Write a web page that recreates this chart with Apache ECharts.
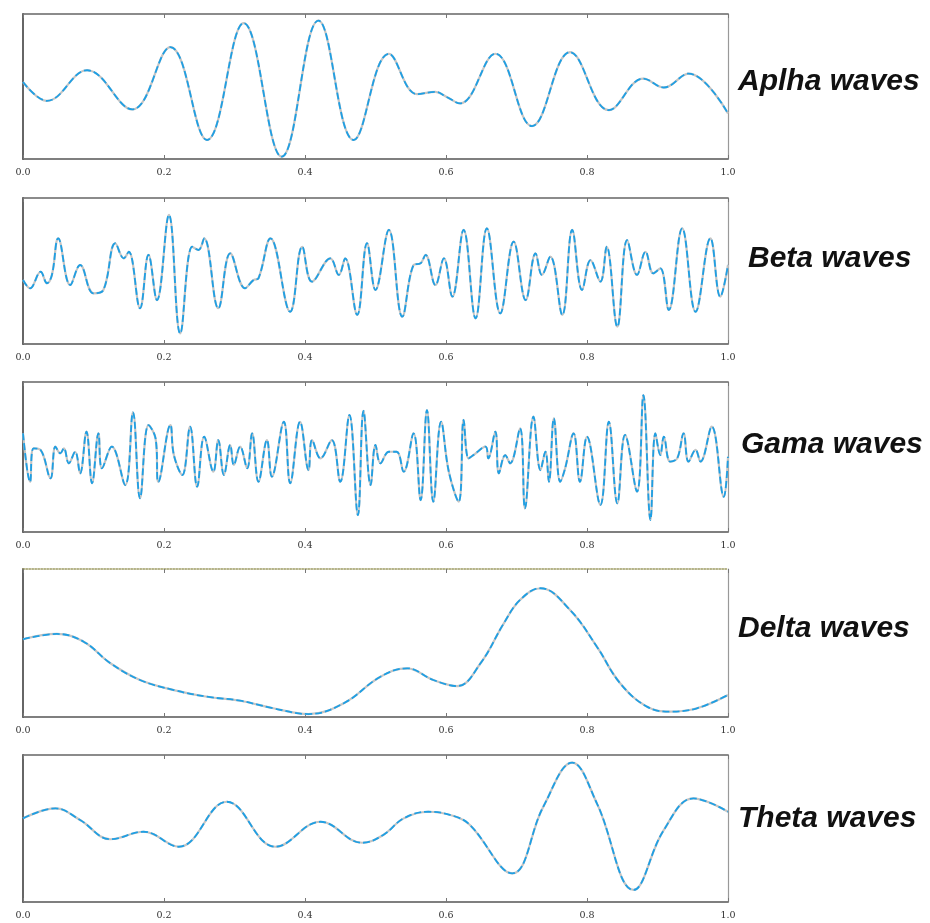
<!DOCTYPE html>
<html>
<head>
<meta charset="utf-8">
<script src="https://cdn.jsdelivr.net/npm/echarts@6/dist/echarts.min.js"></script>
<style>
  html, body { margin: 0; padding: 0; background: #fff; }
  #chart { width: 930px; height: 923px; }
</style>
</head>
<body>
<div id="chart"></div>
<script>
// EEG rhythm traces, one panel per band: [time (s), relative amplitude]
const alphaWave = [[0.000,53.1],[0.034,40.1],[0.091,61.2],[0.155,34.2],[0.209,77.2],[0.261,13.1],[0.313,93.7],[0.367,1.6],[0.419,95.5],[0.469,13.1],[0.519,72.6],[0.559,44.7],[0.585,46.3],[0.601,42.8],[0.620,38.3],[0.670,72.6],[0.722,22.7],[0.776,73.7],[0.831,33.7],[0.880,55.5],[0.909,49.3],[0.944,58.9],[1.000,31.4]];

const betaWave = [[0.000,43.8],[0.010,38.2],[0.025,49.5],[0.034,41.6],[0.041,47.3],[0.050,72.4],[0.067,40.4],[0.081,54.1],[0.100,34.7],[0.114,37.0],[0.131,69.0],[0.143,58.7],[0.150,63.2],[0.166,24.5],[0.178,61.0],[0.190,30.1],[0.207,88.4],[0.223,7.3],[0.240,66.6],[0.249,64.4],[0.257,72.4],[0.277,24.5],[0.294,62.1],[0.315,38.2],[0.327,43.8],[0.334,45.0],[0.351,72.4],[0.379,22.1],[0.396,66.6],[0.410,42.7],[0.436,58.7],[0.448,47.3],[0.457,58.7],[0.474,19.9],[0.488,69.0],[0.500,37.0],[0.519,78.1],[0.538,18.7],[0.554,54.1],[0.564,55.3],[0.571,61.0],[0.585,40.4],[0.597,58.7],[0.609,32.4],[0.625,78.1],[0.642,17.6],[0.658,79.2],[0.677,21.0],[0.696,70.1],[0.713,30.1],[0.727,62.1],[0.736,47.3],[0.748,59.8],[0.765,19.9],[0.779,78.1],[0.793,37.0],[0.805,57.5],[0.819,42.7],[0.828,66.6],[0.843,11.8],[0.857,71.2],[0.871,47.3],[0.883,63.2],[0.894,48.4],[0.904,51.8],[0.916,23.3],[0.935,79.2],[0.954,22.1],[0.975,72.4],[0.989,32.4],[1.000,54.1]];

const gammaWave = [[0.000,65.8],[0.010,33.5],[0.015,55.8],[0.025,54.7],[0.039,35.8],[0.046,56.9],[0.053,52.5],[0.058,55.8],[0.065,45.8],[0.074,53.5],[0.081,39.1],[0.090,66.9],[0.098,32.5],[0.107,65.8],[0.112,42.5],[0.126,56.9],[0.145,31.3],[0.156,79.8],[0.166,22.5],[0.178,71.3],[0.188,62.5],[0.192,33.5],[0.209,71.3],[0.214,51.3],[0.226,38.0],[0.237,70.2],[0.247,30.2],[0.257,63.5],[0.270,40.2],[0.277,61.3],[0.285,38.0],[0.294,58.0],[0.299,44.7],[0.308,56.9],[0.318,42.5],[0.325,65.8],[0.334,33.5],[0.346,61.3],[0.353,36.9],[0.370,73.5],[0.379,32.5],[0.393,73.5],[0.405,41.3],[0.410,61.3],[0.422,49.1],[0.438,61.3],[0.450,33.5],[0.463,78.0],[0.475,11.3],[0.483,80.7],[0.493,31.3],[0.500,58.0],[0.507,45.8],[0.519,53.5],[0.530,53.5],[0.540,40.2],[0.554,65.8],[0.564,21.3],[0.573,81.3],[0.582,20.2],[0.593,73.5],[0.604,40.2],[0.618,20.2],[0.625,74.7],[0.632,49.1],[0.639,51.3],[0.656,56.9],[0.660,49.1],[0.670,66.9],[0.675,39.1],[0.684,51.3],[0.691,45.8],[0.705,69.1],[0.712,15.8],[0.724,76.9],[0.734,41.3],[0.741,53.5],[0.746,33.5],[0.753,75.8],[0.762,33.5],[0.769,42.5],[0.781,65.8],[0.790,33.5],[0.800,63.5],[0.819,18.0],[0.831,73.5],[0.843,19.1],[0.854,64.7],[0.871,26.9],[0.880,91.3],[0.890,8.0],[0.897,65.8],[0.904,51.3],[0.909,63.5],[0.918,46.9],[0.928,49.1],[0.937,65.8],[0.944,46.9],[0.954,54.7],[0.961,46.9],[0.977,70.2],[0.994,23.5],[1.000,50.2]];

const deltaWave = [[0.000,52.5],[0.048,56.1],[0.086,50.9],[0.124,36.3],[0.166,25.0],[0.214,18.2],[0.261,13.7],[0.308,11.0],[0.355,5.9],[0.405,2.0],[0.455,9.3],[0.507,27.2],[0.545,32.9],[0.582,25.0],[0.616,20.9],[0.649,36.3],[0.682,63.3],[0.705,79.1],[0.734,87.0],[0.776,72.3],[0.814,47.5],[0.847,22.8],[0.885,7.0],[0.918,3.6],[0.956,5.9],[1.000,14.9]];

const thetaWave = [[0.000,56.9],[0.046,63.7],[0.081,55.8],[0.124,42.7],[0.171,47.8],[0.221,37.6],[0.289,68.2],[0.358,37.6],[0.422,54.6],[0.481,40.3],[0.511,45.6],[0.540,56.9],[0.575,61.4],[0.611,58.5],[0.634,52.4],[0.694,19.5],[0.738,64.8],[0.779,94.8],[0.814,67.1],[0.866,8.2],[0.909,49.0],[0.951,70.5],[1.000,61.4]];

const panelNames = ['Aplha waves', 'Beta waves', 'Gama waves', 'Delta waves', 'Theta waves'];
const panelData = [alphaWave, betaWave, gammaWave, deltaWave, thetaWave];
const xTicks = [0.0, 0.2, 0.4, 0.6, 0.8, 1.0];

// panel boxes and caption placement
const boxes = [
  { top: 14,  height: 145, labelX: 738, labelY: 80 },
  { top: 198, height: 146, labelX: 748, labelY: 257 },
  { top: 382, height: 150, labelX: 741, labelY: 443 },
  { top: 569, height: 148, labelX: 738, labelY: 627 },
  { top: 755, height: 147, labelX: 738, labelY: 817 }
];

const grids = [], xAxes = [], yAxes = [], series = [], graphics = [];

boxes.forEach((b, i) => {
  grids.push({ left: 23, right: 202, top: b.top, height: b.height });
  const topLine = i === 3 ? { color: '#9c9a62', width: 1.5, type: 'dotted' } : { color: '#666', width: 1.5 };
  xAxes.push({
    gridIndex: i, type: 'value', min: xTicks[0], max: xTicks[xTicks.length - 1], interval: 0.2,
    position: 'bottom',
    axisLine: { onZero: false, lineStyle: { color: '#555', width: 1.5 } },
    axisTick: { inside: true, length: 4, lineStyle: { color: '#777' } },
    axisLabel: { fontSize: 9.5, color: '#333', margin: 9, fontFamily: 'DejaVu Serif',
                 formatter: v => v.toFixed(1) },
    splitLine: { show: false }
  });
  xAxes.push({
    gridIndex: i, type: 'value', min: 0, max: 1, interval: 0.2, position: 'top',
    axisLine: { onZero: false, lineStyle: topLine },
    axisTick: { inside: true, length: 4, lineStyle: { color: '#777' } },
    axisLabel: { show: false }, splitLine: { show: false }
  });
  yAxes.push({
    gridIndex: i, type: 'value', min: 0, max: 100, position: 'left',
    axisLine: { show: true, onZero: false, lineStyle: { color: '#666', width: 2 } },
    axisTick: { show: false }, axisLabel: { show: false }, splitLine: { show: false }
  });
  yAxes.push({
    gridIndex: i, type: 'value', min: 0, max: 100, position: 'right',
    axisLine: { show: true, onZero: false, lineStyle: { color: '#999', width: 1.2 } },
    axisTick: { show: false }, axisLabel: { show: false }, splitLine: { show: false }
  });

  // grey trace underneath with a dashed blue trace on top
  series.push({
    type: 'line', xAxisIndex: 2 * i, yAxisIndex: 2 * i, data: panelData[i],
    smooth: 0.4, showSymbol: false, silent: true,
    lineStyle: { color: '#c4c4c4', width: 2.2 }
  });
  series.push({
    type: 'line', xAxisIndex: 2 * i, yAxisIndex: 2 * i, data: panelData[i],
    smooth: 0.4, showSymbol: false, silent: true,
    lineStyle: { color: '#1e9fe4', width: 1.8, type: [7, 3] }
  });

  graphics.push({
    type: 'text', left: b.labelX, top: b.labelY - 13,
    style: {
      text: panelNames[i], fill: '#111',
      font: 'italic bold 30px "Liberation Sans", Arial, sans-serif'
    }
  });
});

const chart = echarts.init(document.getElementById('chart'), null, { renderer: 'canvas' });
chart.setOption({
  animation: false,
  backgroundColor: '#fff',
  grid: grids,
  xAxis: xAxes,
  yAxis: yAxes,
  series: series,
  graphic: graphics
});
</script>
</body>
</html>
